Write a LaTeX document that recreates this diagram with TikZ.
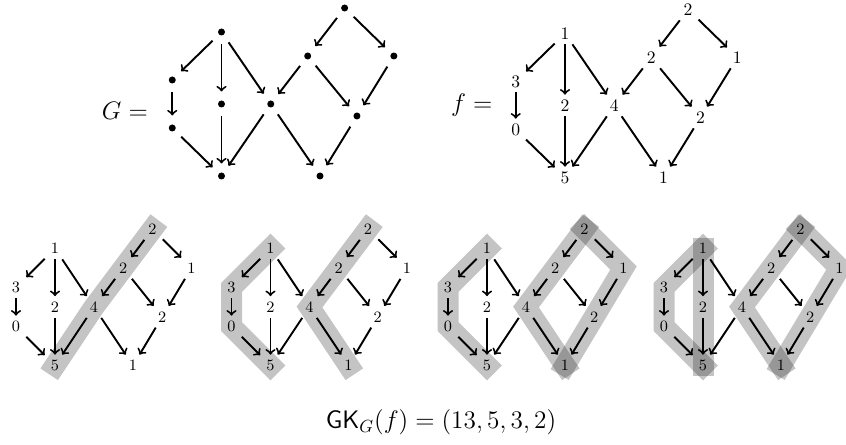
\documentclass[tikz,border=0pt]{standalone}
\usetikzlibrary{backgrounds}

\begin{document}
\begin{tikzpicture}[
  >=to,
  vtx/.style={inner sep=0pt, minimum width=0.4cm, minimum height=0.42cm},
  dot/.style={circle, fill, inner sep=0pt, minimum size=0.14cm, outer sep=0.18cm},
  arrow/.style={->, line width=1.1pt},
  band/.style={draw=black, opacity=0.23, line width=0.42cm,
               line cap=rect, line join=miter},
  eqlabel/.style={font=\Large, anchor=base east},
]
\useasboundingbox (0,0) rectangle (16.92,-8.9);

% the graph G
\begin{scope}[shift={(4.43,-0.64)}, x=0.985cm, y=0.96cm]
  \foreach \n/\x/\y in {a/0/0, b/-1/-1, c/-1/-2, d/0/-1.5, e/1/-1.5, f/0/-3,
                        g/2.5/0.5, h/1.75/-0.5, i/3.5/-0.5, j/2.75/-1.75, k/2/-3}
    \node[dot] (\n G) at (\x,\y) {};
  \foreach \a/\b in {a/b, a/d, a/e, b/c, c/f, d/f, e/f, e/k,
                     g/h, g/i, h/e, h/j, i/j, j/k}
    \draw[arrow] (\a G) -- (\b G);
\end{scope}

% f on G, then the four copies below
\foreach \p/\sx/\sy/\ux/\uy/\fs in {0/11.3/-0.67/0.985/0.96/\normalsize,
                                    1/1.1/-4.97/0.78/0.78/\small,
                                    2/5.41/-4.97/0.78/0.78/\small,
                                    3/9.74/-4.97/0.78/0.78/\small,
                                    4/14.06/-4.97/0.78/0.78/\small}{
  \begin{scope}[shift={(\sx,\sy)}, x=\ux cm, y=\uy cm, font=\fs]
    \foreach \n/\x/\y/\l in {a/0/0/1, b/-1/-1/3, c/-1/-2/0, d/0/-1.5/2,
                             e/1/-1.5/4, f/0/-3/5, g/2.5/0.5/2, h/1.75/-0.5/2,
                             i/3.5/-0.5/1, j/2.75/-1.75/2, k/2/-3/1}
      \node[vtx] (\n\p) at (\x,\y) {\l};
    \foreach \a/\b in {a/b, a/d, a/e, b/c, c/f, d/f, e/f, e/k,
                       g/h, g/i, h/e, h/j, i/j, j/k}
      \draw[arrow] (\a\p) -- (\b\p);
  \end{scope}
}

% chains
\begin{scope}[on background layer]
  \draw[band] (g1.center) -- (h1.center) -- (e1.center) -- (f1.center);
  \foreach \p in {2,3,4}{
    \draw[band] (a\p.center) -- (b\p.center) -- (c\p.center) -- (f\p.center);
    \draw[band] (g\p.center) -- (h\p.center) -- (e\p.center) -- (k\p.center);
  }
  \foreach \p in {3,4}
    \draw[band] (g\p.center) -- (i\p.center) -- (j\p.center) -- (k\p.center);
  \draw[band] (a4.center) -- (d4.center) -- (f4.center);
\end{scope}

\node[eqlabel] (Geq) at (3.08,-2.4) {$G =$};
\node[eqlabel] (feq) at (9.97,-2.24) {$f =$};
\node[font=\Large, anchor=base] (gk) at (8.82,-8.57)
  {$\mathsf{GK}_G(f) = (13,5,3,2)$};
\end{tikzpicture}
\end{document}
